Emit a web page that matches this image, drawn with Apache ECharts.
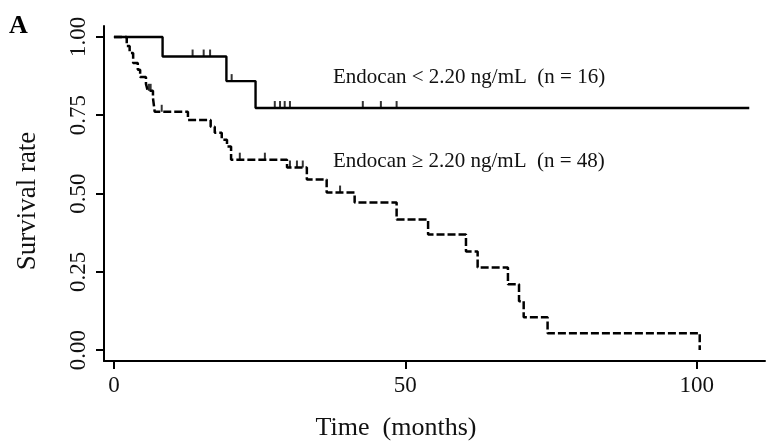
<!DOCTYPE html>
<html>
<head>
<meta charset="utf-8">
<script src="https://cdn.jsdelivr.net/npm/echarts@6/dist/echarts.min.js"></script>
<style>html,body{margin:0;padding:0;background:#fff}#c{width:769px;height:448px}</style>
</head>
<body>
<div id="c"></div>
<script>
// Group: Endocan < 2.20 ng/mL (solid)
const lowTimes = [0, 8.35, 19.3, 24.3, 109];
const lowSurv = [1, 0.9375, 0.859, 0.773, 0.773];
const lowCensorTimes = [13.5, 15.4, 16.5, 20.2, 27.6, 28.5, 29.3, 30.2, 42.7, 45.8, 48.5];
const lowCensorSurv = [0.9375, 0.9375, 0.9375, 0.859, 0.773, 0.773, 0.773, 0.773, 0.773, 0.773, 0.773];

// Group: Endocan >= 2.20 ng/mL (dashed)
const highTimes = [0, 2.2, 2.7, 3.3, 4.1, 4.5, 5.5, 5.8, 6.7, 7.0, 12.7, 16.6, 17.3, 18.5, 19.4, 20.1, 29.7, 33.1, 36.5, 41.3, 48.5, 53.9, 60.4, 62.4, 67.6, 69.5, 70.3, 74.4, 100.5];
const highSurv = [1, 0.971, 0.949, 0.917, 0.895, 0.872, 0.850, 0.828, 0.805, 0.761, 0.735, 0.713, 0.694, 0.672, 0.650, 0.608, 0.583, 0.545, 0.503, 0.471, 0.417, 0.369, 0.315, 0.264, 0.210, 0.156, 0.105, 0.054, 0];
const highCensorTimes = [6.0, 6.3, 8.2, 21.6, 25.9, 30.2, 31.4, 32.4, 38.8];
const highCensorSurv = [0.828, 0.828, 0.761, 0.608, 0.608, 0.583, 0.583, 0.583, 0.503];

const xTicks = [0, 50, 100];
const yTicks = [0, 0.25, 0.5, 0.75, 1];
const yTickLabels = ['0.00', '0.25', '0.50', '0.75', '1.00'];
const lowLabel = 'Endocan < 2.20 ng/mL  (n = 16)';
const highLabel = 'Endocan \u2265 2.20 ng/mL  (n = 48)';
const xTitle = 'Time  (months)';
const yTitle = 'Survival rate';
const panelLabel = 'A';

const zip = (a, b) => a.map((v, i) => [v, b[i]]);
const FONT = "'Liberation Serif', 'Times New Roman', serif";

const chart = echarts.init(document.getElementById('c'));
chart.setOption({
  animation: false,
  backgroundColor: '#fff',
  grid: { left: 104, top: 26, width: 661, height: 335, containLabel: false },
  xAxis: {
    type: 'value', min: -1.7, max: 111.7,
    axisLine: { show: true, onZero: false, lineStyle: { color: '#000', width: 2 } },
    axisTick: { show: true, customValues: xTicks, length: 8, lineStyle: { color: '#000', width: 2 } },
    axisLabel: { customValues: xTicks, margin: 13, fontFamily: FONT, fontSize: 23, color: '#111' },
    splitLine: { show: false }
  },
  yAxis: {
    type: 'value', min: -0.035, max: 1.035,
    axisLine: { show: true, onZero: false, lineStyle: { color: '#000', width: 2 } },
    axisTick: { show: true, customValues: yTicks, length: 8, lineStyle: { color: '#000', width: 2 } },
    axisLabel: {
      customValues: yTicks, rotate: 90, margin: 14, fontFamily: FONT, fontSize: 23, color: '#111',
      formatter: v => yTickLabels[yTicks.indexOf(Math.round(v * 100) / 100)]
    },
    splitLine: { show: false }
  },
  graphic: [
    { type: 'text', left: 9, top: 13, style: { text: panelLabel, font: "bold 26px 'Liberation Serif', serif", fill: '#000' } },
    { type: 'text', left: 333, top: 67, style: { text: lowLabel, font: "21px 'Liberation Serif', serif", fill: '#111' } },
    { type: 'text', left: 333, top: 151, style: { text: highLabel, font: "21px 'Liberation Serif', serif", fill: '#111' } },
    { type: 'text', x: 396, y: 428, style: { text: xTitle, font: "26px 'Liberation Serif', serif", fill: '#111', textAlign: 'center', textVerticalAlign: 'middle' } },
    { type: 'text', x: 28, y: 201, rotation: Math.PI / 2, style: { text: yTitle, font: "27px 'Liberation Serif', serif", fill: '#111', textAlign: 'center', textVerticalAlign: 'middle' } }
  ],
  series: [
    { type: 'line', step: 'end', data: zip(lowTimes, lowSurv), symbol: 'none',
      lineStyle: { color: '#000', width: 2.4 } },
    { type: 'line', step: 'end', data: zip(highTimes, highSurv), symbol: 'none',
      lineStyle: { color: '#000', width: 2.5, type: [8, 3] } },
    { type: 'scatter', data: zip(lowCensorTimes, lowCensorSurv), symbol: 'rect', symbolSize: [2, 7],
      symbolOffset: [0, -3.5], itemStyle: { color: '#000' } },
    { type: 'scatter', data: zip(highCensorTimes, highCensorSurv), symbol: 'rect', symbolSize: [2, 7],
      symbolOffset: [0, -3.5], itemStyle: { color: '#000' } }
  ]
});
</script>
</body>
</html>
